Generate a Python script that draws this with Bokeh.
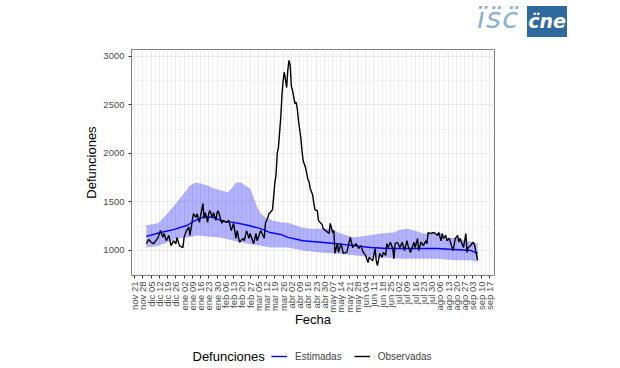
import numpy as np
from bokeh.plotting import figure
from bokeh.layouts import column
from bokeh.models import FixedTicker, Legend, LegendItem, Div
from bokeh.core.properties import value
from bokeh.embed import file_html
from bokeh.resources import INLINE

# ---- data (day offsets from 2019-11-21) ----
tick_labels = ["nov 21", "nov 28", "dic 05", "dic 12", "dic 19", "dic 26", "ene 02", "ene 09",
               "ene 16", "ene 23", "ene 30", "feb 06", "feb 13", "feb 20", "feb 27", "mar 05",
               "mar 12", "mar 19", "mar 26", "abr 02", "abr 09", "abr 16", "abr 23", "abr 30",
               "may 07", "may 14", "may 21", "may 28", "jun 04", "jun 11", "jun 18", "jun 25",
               "jul 02", "jul 09", "jul 16", "jul 23", "jul 30", "ago 06", "ago 13", "ago 20",
               "ago 27", "sep 03", "sep 10", "sep 17"]
y_ticks = [1000, 1500, 2000, 2500, 3000]
series_names = ["Estimadas", "Observadas"]
legend_title = "Defunciones"

obs_day = [10, 12, 14, 16, 18, 20, 22, 24, 25, 27, 29, 31, 33, 35, 36, 38, 41, 42, 44, 46, 47, 49, 50,
           52, 53, 55, 58, 59, 60, 62, 63, 64, 66, 67, 69, 70, 71, 74, 75, 78, 80, 82, 84, 86, 87, 89,
           92, 93, 95, 97, 98, 101, 103, 104, 107, 109, 110, 111, 113, 114, 115, 117, 118, 119, 120,
           121, 122, 124, 125, 126, 127, 129, 130, 131, 132, 133, 134, 136, 137, 138, 139, 141, 142,
           143, 145, 147, 148, 149, 151, 152, 153, 155, 156, 158, 159, 160, 162, 164, 165, 166, 168,
           169, 170, 172, 173, 175, 176, 177, 180, 182, 183, 185, 186, 188, 190, 192, 194, 196, 198,
           199, 202, 204, 205, 206, 208, 210, 211, 213, 214, 215, 217, 219, 220, 221, 223, 225, 227,
           229, 231, 232, 234, 237, 238, 240, 241, 243, 245, 247, 248, 249, 251, 254, 255, 257, 258,
           260, 261, 262, 264, 265, 267, 270, 271, 272, 274, 275, 276, 279, 281, 282, 283, 285, 287,
           288, 289, 291]
obs_val = [1070, 1115, 1085, 1070, 1100, 1135, 1205, 1135, 1175, 1100, 1155, 1050, 1100, 1070, 1135,
           1050, 1030, 1135, 1205, 1240, 1155, 1310, 1380, 1340, 1380, 1290, 1485, 1330, 1390, 1290,
           1390, 1410, 1340, 1390, 1310, 1390, 1410, 1280, 1310, 1290, 1310, 1205, 1280, 1125, 1205,
           1085, 1125, 1100, 1205, 1125, 1175, 1070, 1175, 1100, 1205, 1155, 1125, 1280, 1340, 1380,
           1390, 1420, 1560, 1700, 1780, 2000, 2060, 2370, 2600, 2750, 2840, 2680, 2860, 2960, 2910,
           2690, 2650, 2515, 2530, 2465, 2340, 2165, 2030, 1925, 1855, 1735, 1710, 1640, 1575, 1490,
           1420, 1410, 1310, 1280, 1270, 1225, 1205, 1185, 1175, 1280, 1185, 1205, 970, 1070, 980,
           1070, 1030, 970, 980, 1085, 1135, 1030, 1050, 1070, 1020, 1050, 980, 950, 875, 930, 895,
           1020, 895, 845, 970, 930, 980, 950, 1070, 1030, 1085, 1020, 915, 1070, 1085, 1030, 1085,
           1000, 1100, 1050, 980, 1085, 1030, 1125, 1000, 1085, 1050, 1100, 1070, 1185, 1175, 1185,
           1175, 1155, 1185, 1100, 1175, 1125, 1155, 1100, 1125, 1000, 1050, 1125, 1155, 1085, 1125,
           1030, 1175, 980, 1030, 1050, 1085, 1070, 1020, 900]

est_day = [10, 22, 33, 45, 50, 59, 67, 75, 84, 96, 107, 115, 124, 130, 143, 158, 172, 186, 200, 215,
           228, 243, 257, 271, 285, 291]
est_val = [1145, 1185, 1215, 1260, 1300, 1350, 1340, 1300, 1290, 1260, 1225, 1185, 1165, 1135, 1100,
           1085, 1070, 1050, 1030, 1020, 1020, 1020, 1020, 1010, 1000, 970]

up_day = [10, 20, 28, 36, 42, 47, 52, 56, 62, 67, 73, 79, 83, 86, 90, 94, 98, 101, 104, 107, 111, 117,
          124, 132, 141, 149, 158, 166, 175, 186, 198, 209, 220, 226, 232, 237, 245, 254, 259, 265,
          274, 282, 291]
up_val = [1260, 1280, 1380, 1500, 1590, 1670, 1700, 1690, 1670, 1640, 1620, 1600, 1650, 1700, 1700,
          1670, 1640, 1550, 1445, 1380, 1340, 1310, 1290, 1280, 1240, 1225, 1225, 1225, 1175, 1135,
          1155, 1175, 1185, 1215, 1225, 1205, 1175, 1175, 1185, 1135, 1125, 1100, 1070]

lo_day = [10, 20, 28, 36, 45, 53, 62, 73, 84, 96, 107, 115, 124, 130, 143, 158, 172, 186, 200, 215,
          228, 243, 257, 271, 285, 291]
lo_val = [1030, 1050, 1085, 1125, 1135, 1155, 1145, 1135, 1100, 1070, 1050, 1030, 1030, 1030, 1000,
          980, 970, 950, 930, 925, 915, 915, 915, 900, 900, 880]

FONT = "Liberation Sans"
W = 620
LOGO_H, MAIN_H, LEG_H = 40, 300, 28
BL, BR = 131, 126

# ---- logo (HTML) ----
logo = Div(width=W, height=LOGO_H, margin=0, text=(
    '<div style="position:relative;width:620px;height:40px;">'
    '<span style="position:absolute;left:477px;top:1px;font-family:\'DejaVu Sans\';'
    'font-style:italic;font-size:29px;letter-spacing:1px;color:#8DB1D3;line-height:34px;">ïs̈c̈</span>'
    '<span style="position:absolute;left:527px;top:6px;width:40px;height:31px;'
    'background:#2F6A9E;color:white;font-family:\'DejaVu Sans\';font-weight:bold;'
    'font-style:italic;font-size:19px;line-height:31px;text-align:center;">c̈ne</span>'
    '</div>'))

# ---- main chart ----
p = figure(width=W, height=MAIN_H, x_range=(-2.6, 305.3), y_range=(742, 3072),
           output_backend="svg", toolbar_location=None,
           min_border_left=BL, min_border_right=BR, min_border_top=9, min_border_bottom=65)
p.background_fill_color = "white"
p.border_fill_color = "white"
p.outline_line_color = "#7F7F7F"
p.outline_line_width = 1

tick_days = [7 * i for i in range(len(tick_labels))]
minor_days = [7 * i + 3.5 for i in range(-1, len(tick_labels))]
p.xaxis.ticker = FixedTicker(ticks=tick_days, minor_ticks=minor_days)
p.xaxis.major_label_overrides = {d: lab for d, lab in zip(tick_days, tick_labels)}
p.xaxis.major_label_orientation = np.pi / 2
p.yaxis.ticker = FixedTicker(ticks=y_ticks, minor_ticks=[750, 1250, 1750, 2250, 2750])

for ax in (p.xaxis, p.yaxis):
    ax.axis_line_color = None
    ax.major_tick_in = 0
    ax.major_tick_out = 3
    ax.major_tick_line_color = "#333333"
    ax.minor_tick_line_color = None
    ax.major_label_text_font = FONT
    ax.major_label_text_font_size = "9.5px"
    ax.major_label_text_color = "#4D4D4D"
    ax.axis_label_text_font = FONT
    ax.axis_label_text_font_size = "13px"
    ax.axis_label_text_font_style = "normal"
    ax.axis_label_text_color = "black"
p.xaxis.axis_label = "Fecha"
p.yaxis.axis_label = "Defunciones"
p.xaxis.major_label_standoff = 2
p.yaxis.major_label_standoff = 3
p.xaxis.axis_label_standoff = -4
p.yaxis.axis_label_standoff = 1

p.xgrid.grid_line_color = "#EBEBEB"
p.ygrid.grid_line_color = "#EBEBEB"
p.xgrid.minor_grid_line_color = "#F3F3F3"
p.ygrid.minor_grid_line_color = "#F3F3F3"

p.patch(up_day + lo_day[::-1], up_val + lo_val[::-1], fill_color="blue", fill_alpha=0.3,
        line_color=None)
p.line(est_day, est_val, line_color="blue", line_width=1.4)
p.line(obs_day, obs_val, line_color="black", line_width=1.4)

# ---- legend strip ----
lg = figure(width=W, height=LEG_H, x_range=(0, W - BL - BR), y_range=(0, LEG_H),
            output_backend="svg", toolbar_location=None,
            min_border_left=BL, min_border_right=BR, min_border_top=0, min_border_bottom=0)
lg.axis.visible = False
lg.grid.visible = False
lg.outline_line_color = None
lg.background_fill_color = "white"
lg.border_fill_color = "white"
# legend proxies (no visible data, only their line styles are used by the legend)
d_est = lg.line([np.nan], [np.nan], line_color="blue", line_width=1.4)
d_obs = lg.line([np.nan], [np.nan], line_color="black", line_width=1.4)
lg.text(x=[61], y=[12], text=[legend_title], text_font=value(FONT), text_font_size="13px",
        text_color="black", text_baseline="middle")
legend = Legend(items=[LegendItem(label=series_names[0], renderers=[d_est]),
                       LegendItem(label=series_names[1], renderers=[d_obs])],
                orientation="horizontal", location=(140, 5),
                glyph_width=16, glyph_height=14, label_height=14, label_standoff=8,
                spacing=12, padding=0, margin=0,
                border_line_color=None, background_fill_alpha=0,
                label_text_font=FONT, label_text_font_size="10px")
lg.add_layout(legend, "center")

open("out.html", "w").write(file_html(column(logo, p, lg, spacing=0), INLINE))
